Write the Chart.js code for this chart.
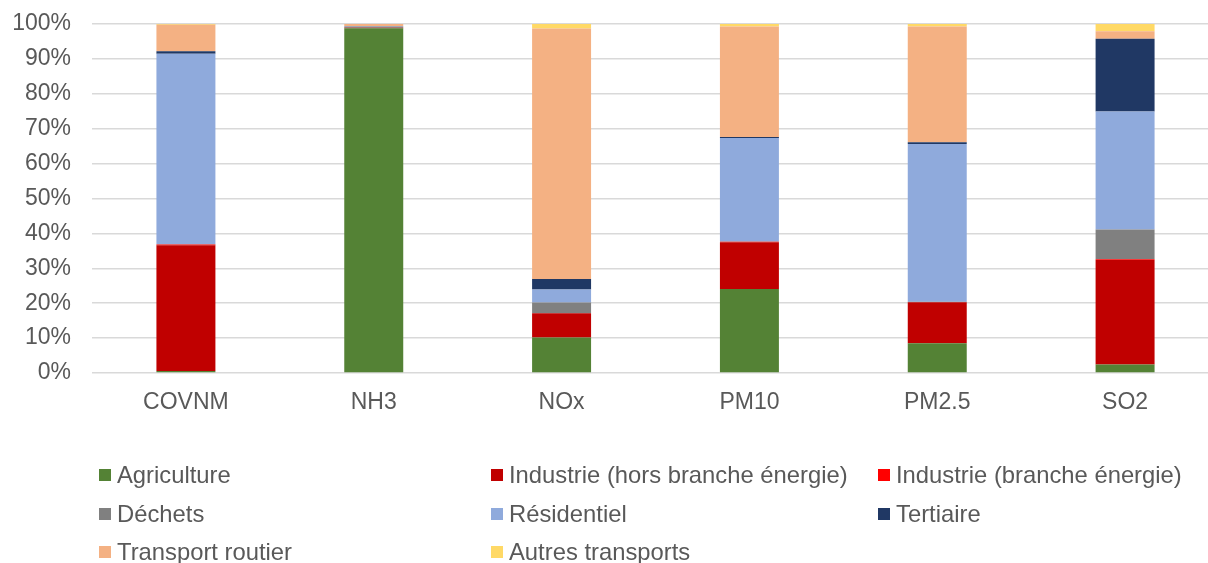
<!DOCTYPE html>
<html lang="fr">
<head>
<meta charset="utf-8">
<title>Émissions par secteur</title>
<script src="https://cdn.jsdelivr.net/npm/chart.js@4.4.1/dist/chart.umd.min.js"></script>
<style>
  html, body { margin: 0; padding: 0; background: #ffffff; overflow: hidden; }
  #wrap { position: relative; width: 1219px; height: 563px; }
  #chart { position: absolute; left: 0; top: 0; }
  .leg { position: absolute; font-family: 'Liberation Sans', Arial, sans-serif; font-size: 23.8px;
         color: #595959; white-space: nowrap; line-height: 1; }
  .leg .box { position: absolute; width: 12px; height: 12px; }
  .leg .txt { position: absolute; transform: translateY(-50%); }
</style>
</head>
<body>
<div id="wrap">
  <canvas id="chart" width="1219" height="563"></canvas>
  <div id="legend"></div>
</div>
<script>
// Polluants (catégories de l'axe X)
const categories = ['COVNM', 'NH3', 'NOx', 'PM10', 'PM2.5', 'SO2'];

// Part de chaque secteur dans les émissions (%)
const agriculture      = [0.6, 98.8, 10.2, 24.1,  8.5,  2.4];
const industrieHors    = [36.0, 0.1,  6.9, 13.4, 11.8, 30.0];
const industrieEnergie = [0.2,  0.0,  0.0,  0.1,  0.0,  0.2];
const dechets          = [0.1,  0.4,  3.1,  0.1,  0.1,  8.5];
const residentiel      = [54.6, 0.1,  3.7, 29.6, 45.2, 33.8];
const tertiaire        = [0.7,  0.0,  3.0,  0.3,  0.5, 20.9];
const transportRoutier = [7.6,  0.6, 71.8, 31.7, 33.2,  2.1];
const autresTransports = [0.2,  0.0,  1.3,  0.7,  0.7,  2.1];

// Graduations de l'axe Y
const yTicks = [0, 10, 20, 30, 40, 50, 60, 70, 80, 90, 100];

const sectorNames = [
  'Agriculture', 'Industrie (hors branche énergie)', 'Industrie (branche énergie)',
  'Déchets', 'Résidentiel', 'Tertiaire', 'Transport routier', 'Autres transports'
];
const sectorValues = [
  agriculture, industrieHors, industrieEnergie, dechets,
  residentiel, tertiaire, transportRoutier, autresTransports
];
const sectorColors = [
  '#548235', '#C00000', '#FF0000', '#808080',
  '#8FAADC', '#203864', '#F4B183', '#FFD966'
];

const FONT = "'Liberation Sans', Arial, sans-serif";
const TEXT = '#595959';
const GRID = '#d9d9d9';

const datasets = sectorNames.map((name, i) => ({
  label: name,
  data: sectorValues[i],
  backgroundColor: sectorColors[i],
  borderWidth: 0,
  barPercentage: 1.0,
  categoryPercentage: 0.314
}));

new Chart(document.getElementById('chart'), {
  type: 'bar',
  data: { labels: categories, datasets },
  options: {
    responsive: false,
    animation: false,
    devicePixelRatio: 1,
    layout: { padding: { top: 24, right: 0, bottom: 0, left: 0 } },
    plugins: { legend: { display: false }, tooltip: { enabled: false } },
    scales: {
      x: {
        stacked: true,
        grid: { display: false, drawTicks: false },
        border: { display: false },
        ticks: { color: TEXT, font: { family: FONT, size: 23 }, padding: 16, maxRotation: 0 },
        afterFit: (s) => { s.height = 190; }
      },
      y: {
        stacked: true,
        min: 0,
        max: 100,
        afterBuildTicks: (s) => { s.ticks = yTicks.map(v => ({ value: v })); },
        grid: { color: GRID, lineWidth: 1.5, drawTicks: false },
        border: { display: false },
        ticks: {
          color: TEXT,
          font: { family: FONT, size: 23 },
          padding: 21,
          callback: (v) => v + '%'
        },
        afterFit: (s) => {
          s.width = 92;
          // la marge haute est fixée par le layout
          s.paddingTop = 0;
          s.paddingBottom = 0;
        }
      }
    }
  }
});

// Légende en trois colonnes
const legendCols = [99, 491, 878];
const legendRows = [475, 514, 552];
const legendEl = document.getElementById('legend');
sectorNames.forEach((name, i) => {
  const col = i % 3, row = Math.floor(i / 3);
  const item = document.createElement('div');
  item.className = 'leg';
  item.style.left = legendCols[col] + 'px';
  item.style.top = legendRows[row] + 'px';
  const box = document.createElement('span');
  box.className = 'box';
  box.style.background = sectorColors[i];
  box.style.left = '0px';
  box.style.top = '-6px';
  const txt = document.createElement('span');
  txt.className = 'txt';
  txt.style.left = '18px';
  txt.style.top = '0px';
  txt.textContent = name;
  item.appendChild(box);
  item.appendChild(txt);
  legendEl.appendChild(item);
});
</script>
</body>
</html>
